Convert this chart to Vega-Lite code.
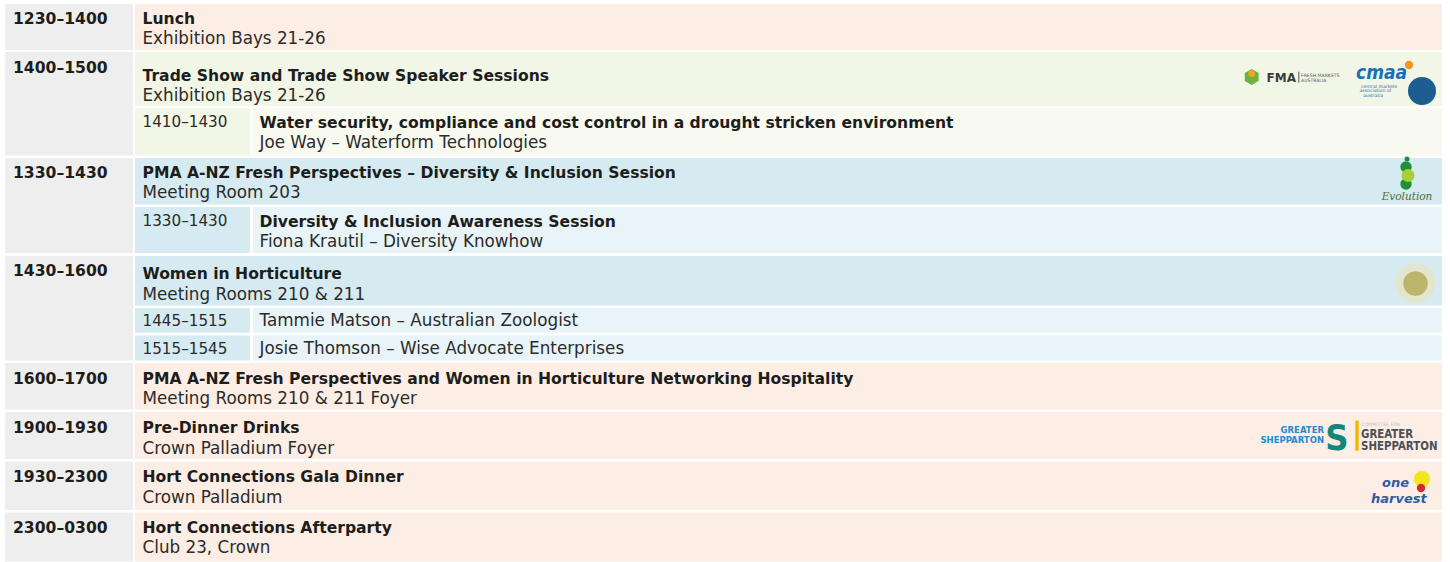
{
  "$schema": "https://vega.github.io/schema/vega-lite/v6.json",
  "width": 1450,
  "height": 562,
  "padding": 0,
  "autosize": {"type": "fit", "contains": "padding"},
  "background": "white",
  "config": {"view": {"stroke": null}},
  "datasets": {
    "cells": [
      {"left": 5, "right": 133, "top": 4, "bottom": 50, "tone": "slot"},
      {"left": 135, "right": 1442, "top": 4, "bottom": 50, "tone": "peach"},
      {"left": 5, "right": 133, "top": 52, "bottom": 155.5, "tone": "slot"},
      {"left": 135, "right": 1442, "top": 52, "bottom": 106, "tone": "green"},
      {"left": 135, "right": 250, "top": 108.5, "bottom": 155.5, "tone": "green"},
      {"left": 253, "right": 1442, "top": 108.5, "bottom": 155.5, "tone": "green2"},
      {"left": 5, "right": 133, "top": 158, "bottom": 253, "tone": "slot"},
      {"left": 135, "right": 1442, "top": 158, "bottom": 204.5, "tone": "blue"},
      {"left": 135, "right": 250, "top": 207, "bottom": 253, "tone": "blue"},
      {"left": 253, "right": 1442, "top": 207, "bottom": 253, "tone": "blue2"},
      {"left": 5, "right": 133, "top": 256, "bottom": 360.5, "tone": "slot"},
      {"left": 135, "right": 1442, "top": 256, "bottom": 305.5, "tone": "blue"},
      {"left": 135, "right": 250, "top": 308, "bottom": 332.7, "tone": "blue"},
      {"left": 253, "right": 1442, "top": 308, "bottom": 332.7, "tone": "blue2"},
      {"left": 135, "right": 250, "top": 335.5, "bottom": 360.5, "tone": "blue"},
      {"left": 253, "right": 1442, "top": 335.5, "bottom": 360.5, "tone": "blue2"},
      {"left": 5, "right": 133, "top": 363, "bottom": 409.5, "tone": "slot"},
      {"left": 135, "right": 1442, "top": 363, "bottom": 409.5, "tone": "peach"},
      {"left": 5, "right": 133, "top": 412, "bottom": 459, "tone": "slot"},
      {"left": 135, "right": 1442, "top": 412, "bottom": 459, "tone": "peach"},
      {"left": 5, "right": 133, "top": 461.5, "bottom": 510, "tone": "slot"},
      {"left": 135, "right": 1442, "top": 461.5, "bottom": 510, "tone": "peach"},
      {"left": 5, "right": 133, "top": 512.5, "bottom": 561.5, "tone": "slot"},
      {"left": 135, "right": 1442, "top": 512.5, "bottom": 561.5, "tone": "peach"},
      {"left": 1355.3, "right": 1358.7, "top": 420.7, "bottom": 450.7, "tone": "gold"},
      {"left": 1298.3, "right": 1299.3, "top": 71.7, "bottom": 82.7, "tone": "fmagray"}
    ],
    "texts": [
      {"kind": "slot", "x": 13, "y": 24, "label": "1230–1400"},
      {"kind": "slot", "x": 13, "y": 73.3, "label": "1400–1500"},
      {"kind": "slot", "x": 13, "y": 177.7, "label": "1330–1430"},
      {"kind": "slot", "x": 13, "y": 276, "label": "1430–1600"},
      {"kind": "slot", "x": 13, "y": 383.7, "label": "1600–1700"},
      {"kind": "slot", "x": 13, "y": 433, "label": "1900–1930"},
      {"kind": "slot", "x": 13, "y": 482.3, "label": "1930–2300"},
      {"kind": "slot", "x": 13, "y": 533.3, "label": "2300–0300"},
      {"kind": "title", "x": 142.5, "y": 24, "label": "Lunch"},
      {"kind": "title", "x": 142.5, "y": 80.7, "label": "Trade Show and Trade Show Speaker Sessions"},
      {"kind": "title", "x": 259.5, "y": 128.3, "label": "Water security, compliance and cost control in a drought stricken environment"},
      {"kind": "title", "x": 142.5, "y": 177.7, "label": "PMA A-NZ Fresh Perspectives – Diversity & Inclusion Session"},
      {"kind": "title", "x": 259.5, "y": 226.7, "label": "Diversity & Inclusion Awareness Session"},
      {"kind": "title", "x": 142.5, "y": 279.3, "label": "Women in Horticulture"},
      {"kind": "title", "x": 142.5, "y": 383.7, "label": "PMA A-NZ Fresh Perspectives and Women in Horticulture Networking Hospitality"},
      {"kind": "title", "x": 142.5, "y": 433, "label": "Pre-Dinner Drinks"},
      {"kind": "title", "x": 142.5, "y": 482.3, "label": "Hort Connections Gala Dinner"},
      {"kind": "title", "x": 142.5, "y": 533.3, "label": "Hort Connections Afterparty"},
      {"kind": "venue", "x": 142.5, "y": 44.3, "label": "Exhibition Bays 21-26"},
      {"kind": "venue", "x": 142.5, "y": 100.7, "label": "Exhibition Bays 21-26"},
      {"kind": "venue", "x": 142.5, "y": 198.3, "label": "Meeting Room 203"},
      {"kind": "venue", "x": 142.5, "y": 299.5, "label": "Meeting Rooms 210 & 211"},
      {"kind": "venue", "x": 142.5, "y": 404.3, "label": "Meeting Rooms 210 & 211 Foyer"},
      {"kind": "venue", "x": 142.5, "y": 453.7, "label": "Crown Palladium Foyer"},
      {"kind": "venue", "x": 142.5, "y": 502.5, "label": "Crown Palladium"},
      {"kind": "venue", "x": 142.5, "y": 552.5, "label": "Club 23, Crown"},
      {"kind": "subslot", "x": 142.5, "y": 127.3, "label": "1410–1430"},
      {"kind": "subslot", "x": 142.5, "y": 226, "label": "1330–1430"},
      {"kind": "subslot", "x": 142.5, "y": 326, "label": "1445–1515"},
      {"kind": "subslot", "x": 142.5, "y": 354.3, "label": "1515–1545"},
      {"kind": "speaker", "x": 259.5, "y": 148.3, "label": "Joe Way – Waterform Technologies"},
      {"kind": "speaker", "x": 259.5, "y": 246.7, "label": "Fiona Krautil – Diversity Knowhow"},
      {"kind": "speaker", "x": 259.5, "y": 326, "label": "Tammie Matson – Australian Zoologist"},
      {"kind": "speaker", "x": 259.5, "y": 354.3, "label": "Josie Thomson – Wise Advocate Enterprises"}
    ],
    "logo": [
      {"part": "fmaHex", "x": 1251.7, "y": 77, "tone": "fmagreen"},
      {"part": "fmaDot", "x": 1251.7, "y": 73.5, "tone": "fmaorange"},
      {"part": "seal", "x": 1422, "y": 91, "tone": "seal"},
      {"part": "sun", "x": 1409, "y": 65, "tone": "sun"},
      {"part": "evoS", "x": 1407, "y": 159, "tone": "evodark"},
      {"part": "evoM", "x": 1406, "y": 167, "tone": "evodark"},
      {"part": "evoL", "x": 1408, "y": 175.5, "tone": "evolime"},
      {"part": "evoM", "x": 1406, "y": 184, "tone": "evodark"},
      {"part": "emblemOut", "x": 1415.5, "y": 283, "tone": "emblem"},
      {"part": "emblemIn", "x": 1415.5, "y": 283.5, "tone": "emblemin"},
      {"part": "ohSun", "x": 1422, "y": 479, "tone": "ohsun"},
      {"part": "ohRed", "x": 1421, "y": 488, "tone": "ohred"}
    ],
    "logoText": [
      {"part": "fma", "x": 1266.5, "y": 81.7, "label": "FMA", "tone": "ink"},
      {"part": "tiny", "x": 1301, "y": 76.5, "label": "FRESH MARKETS", "tone": "fmagray"},
      {"part": "tiny", "x": 1301, "y": 82, "label": "AUSTRALIA", "tone": "fmagray"},
      {"part": "tiny", "x": 1361, "y": 87.5, "label": "central markets", "tone": "cmaa"},
      {"part": "tiny", "x": 1359.5, "y": 92, "label": "association of", "tone": "cmaa"},
      {"part": "tiny", "x": 1363, "y": 96.5, "label": "australia", "tone": "cmaa"},
      {"part": "tiny", "x": 1361.5, "y": 425.5, "label": "COMMITTEE FOR", "tone": "faint"},
      {"part": "cmaa", "x": 1356, "y": 79.3, "label": "cmaa", "tone": "cmaa"},
      {"part": "gsb", "x": 1324, "y": 432.7, "label": "GREATER", "tone": "gsblue"},
      {"part": "gsb", "x": 1324, "y": 443.3, "label": "SHEPPARTON", "tone": "gsblue"},
      {"part": "gsS", "x": 1337, "y": 449.5, "label": "S", "tone": "gsteal"},
      {"part": "gsg", "x": 1361, "y": 437.5, "label": "GREATER", "tone": "gsgray"},
      {"part": "gsg", "x": 1361, "y": 450, "label": "SHEPPARTON", "tone": "gsgray"},
      {"part": "evo", "x": 1407, "y": 200, "label": "Evolution", "tone": "evotext"},
      {"part": "oh", "x": 1382, "y": 487, "label": "one", "tone": "ohblue"},
      {"part": "oh", "x": 1371, "y": 502.5, "label": "harvest", "tone": "ohblue"}
    ]
  },
  "layer": [
    {
      "data": {"name": "cells"},
      "mark": {"type": "rect"},
      "encoding": {
        "x": {"field": "left", "type": "quantitative", "axis": null, "scale": {"domain": [0, 1450], "nice": false, "zero": false}},
        "x2": {"field": "right"},
        "y": {"field": "top", "type": "quantitative", "axis": null, "scale": {"domain": [0, 562], "nice": false, "zero": false, "reverse": true}},
        "y2": {"field": "bottom"},
        "color": {"field": "tone", "type": "nominal", "legend": null,
          "scale": {
            "domain": ["slot","peach","green","green2","blue","blue2","gold","fmagray","fmagreen","fmaorange","ink","cmaa","seal","sun","evodark","evolime","evotext","emblem","emblemin","gsblue","gsteal","gsgray","faint","ohblue","ohsun","ohred"],
            "range": ["#eeeeee","#fdeee5","#f2f6e6","#f8faf0","#d5ebf1","#e8f4f7","#f5b400","#555555","#6db33f","#f6a21c","#3c3c3c","#1b6fb5","#1d5d8f","#f7941d","#1f8f3a","#a8cf38","#4d6b2f","#e2e6cf","#bcb56c","#1f8ad0","#13877a","#4b5055","#bbbbbb","#2d5ba5","#f3e41c","#d42a2f"]
          }
        }
      }
    },
    {
      "data": {"name": "texts"},
      "transform": [{"filter": "datum.kind === 'slot' || datum.kind === 'title'"}],
      "mark": {"type": "text", "align": "left", "baseline": "alphabetic", "font": "DejaVu Sans", "fontWeight": "bold", "fontSize": 15.6, "color": "#1d1d1b"},
      "encoding": {
        "x": {"field": "x", "type": "quantitative"},
        "y": {"field": "y", "type": "quantitative"},
        "text": {"field": "label"}
      }
    },
    {
      "data": {"name": "texts"},
      "transform": [{"filter": "datum.kind === 'venue' || datum.kind === 'speaker'"}],
      "mark": {"type": "text", "align": "left", "baseline": "alphabetic", "font": "DejaVu Sans", "fontWeight": "normal", "fontSize": 16.8, "color": "#2b2b2b"},
      "encoding": {
        "x": {"field": "x", "type": "quantitative"},
        "y": {"field": "y", "type": "quantitative"},
        "text": {"field": "label"}
      }
    },
    {
      "data": {"name": "texts"},
      "transform": [{"filter": "datum.kind === 'subslot'"}],
      "mark": {"type": "text", "align": "left", "baseline": "alphabetic", "font": "DejaVu Sans", "fontWeight": "normal", "fontSize": 15.2, "color": "#2b2b2b"},
      "encoding": {
        "x": {"field": "x", "type": "quantitative"},
        "y": {"field": "y", "type": "quantitative"},
        "text": {"field": "label"}
      }
    },
    {
      "data": {"name": "logo"},
      "transform": [{"filter": "datum.part === 'fmaHex'"}],
      "mark": {"type": "point", "filled": true, "opacity": 1, "size": 256, "shape": "M0,-1L0.866,-0.5L0.866,0.5L0,1L-0.866,0.5L-0.866,-0.5Z"},
      "encoding": {"x": {"field": "x", "type": "quantitative"}, "y": {"field": "y", "type": "quantitative"}, "color": {"field": "tone", "type": "nominal", "legend": null}}
    },
    {
      "data": {"name": "logo"},
      "transform": [{"filter": "datum.part === 'fmaDot'"}],
      "mark": {"type": "point", "filled": true, "opacity": 1, "size": 45},
      "encoding": {"x": {"field": "x", "type": "quantitative"}, "y": {"field": "y", "type": "quantitative"}, "color": {"field": "tone", "type": "nominal", "legend": null}}
    },
    {
      "data": {"name": "logo"},
      "transform": [{"filter": "datum.part === 'seal'"}],
      "mark": {"type": "point", "filled": true, "opacity": 1, "size": 784},
      "encoding": {"x": {"field": "x", "type": "quantitative"}, "y": {"field": "y", "type": "quantitative"}, "color": {"field": "tone", "type": "nominal", "legend": null}}
    },
    {
      "data": {"name": "logo"},
      "transform": [{"filter": "datum.part === 'sun'"}],
      "mark": {"type": "point", "filled": true, "opacity": 1, "size": 70},
      "encoding": {"x": {"field": "x", "type": "quantitative"}, "y": {"field": "y", "type": "quantitative"}, "color": {"field": "tone", "type": "nominal", "legend": null}}
    },
    {
      "data": {"name": "logo"},
      "transform": [{"filter": "datum.part === 'evoS'"}],
      "mark": {"type": "point", "filled": true, "opacity": 1, "size": 25},
      "encoding": {"x": {"field": "x", "type": "quantitative"}, "y": {"field": "y", "type": "quantitative"}, "color": {"field": "tone", "type": "nominal", "legend": null}}
    },
    {
      "data": {"name": "logo"},
      "transform": [{"filter": "datum.part === 'evoM'"}],
      "mark": {"type": "point", "filled": true, "opacity": 1, "size": 130},
      "encoding": {"x": {"field": "x", "type": "quantitative"}, "y": {"field": "y", "type": "quantitative"}, "color": {"field": "tone", "type": "nominal", "legend": null}}
    },
    {
      "data": {"name": "logo"},
      "transform": [{"filter": "datum.part === 'evoL'"}],
      "mark": {"type": "point", "filled": true, "opacity": 1, "size": 170},
      "encoding": {"x": {"field": "x", "type": "quantitative"}, "y": {"field": "y", "type": "quantitative"}, "color": {"field": "tone", "type": "nominal", "legend": null}}
    },
    {
      "data": {"name": "logo"},
      "transform": [{"filter": "datum.part === 'emblemOut'"}],
      "mark": {"type": "point", "filled": true, "opacity": 1, "size": 1600},
      "encoding": {"x": {"field": "x", "type": "quantitative"}, "y": {"field": "y", "type": "quantitative"}, "color": {"field": "tone", "type": "nominal", "legend": null}}
    },
    {
      "data": {"name": "logo"},
      "transform": [{"filter": "datum.part === 'emblemIn'"}],
      "mark": {"type": "point", "filled": true, "opacity": 1, "size": 600},
      "encoding": {"x": {"field": "x", "type": "quantitative"}, "y": {"field": "y", "type": "quantitative"}, "color": {"field": "tone", "type": "nominal", "legend": null}}
    },
    {
      "data": {"name": "logo"},
      "transform": [{"filter": "datum.part === 'ohSun'"}],
      "mark": {"type": "point", "filled": true, "opacity": 1, "size": 260},
      "encoding": {"x": {"field": "x", "type": "quantitative"}, "y": {"field": "y", "type": "quantitative"}, "color": {"field": "tone", "type": "nominal", "legend": null}}
    },
    {
      "data": {"name": "logo"},
      "transform": [{"filter": "datum.part === 'ohRed'"}],
      "mark": {"type": "point", "filled": true, "opacity": 1, "size": 70},
      "encoding": {"x": {"field": "x", "type": "quantitative"}, "y": {"field": "y", "type": "quantitative"}, "color": {"field": "tone", "type": "nominal", "legend": null}}
    },
    {
      "data": {"name": "logoText"},
      "transform": [{"filter": "datum.part === 'fma'"}],
      "mark": {"type": "text", "align": "left", "baseline": "alphabetic", "font": "DejaVu Sans", "fontWeight": "bold", "fontSize": 12},
      "encoding": {"x": {"field": "x", "type": "quantitative"}, "y": {"field": "y", "type": "quantitative"}, "text": {"field": "label"}, "color": {"field": "tone", "type": "nominal", "legend": null}}
    },
    {
      "data": {"name": "logoText"},
      "transform": [{"filter": "datum.part === 'tiny'"}],
      "mark": {"type": "text", "align": "left", "baseline": "alphabetic", "font": "DejaVu Sans", "fontSize": 4.6},
      "encoding": {"x": {"field": "x", "type": "quantitative"}, "y": {"field": "y", "type": "quantitative"}, "text": {"field": "label"}, "color": {"field": "tone", "type": "nominal", "legend": null}}
    },
    {
      "data": {"name": "logoText"},
      "transform": [{"filter": "datum.part === 'cmaa'"}],
      "mark": {"type": "text", "align": "left", "baseline": "alphabetic", "font": "DejaVu Sans Condensed, DejaVu Sans", "fontWeight": "bold", "fontStyle": "italic", "fontSize": 19},
      "encoding": {"x": {"field": "x", "type": "quantitative"}, "y": {"field": "y", "type": "quantitative"}, "text": {"field": "label"}, "color": {"field": "tone", "type": "nominal", "legend": null}}
    },
    {
      "data": {"name": "logoText"},
      "transform": [{"filter": "datum.part === 'gsb'"}],
      "mark": {"type": "text", "align": "right", "baseline": "alphabetic", "font": "DejaVu Sans", "fontWeight": "bold", "fontSize": 8.5},
      "encoding": {"x": {"field": "x", "type": "quantitative"}, "y": {"field": "y", "type": "quantitative"}, "text": {"field": "label"}, "color": {"field": "tone", "type": "nominal", "legend": null}}
    },
    {
      "data": {"name": "logoText"},
      "transform": [{"filter": "datum.part === 'gsS'"}],
      "mark": {"type": "text", "align": "center", "baseline": "alphabetic", "font": "DejaVu Sans Condensed, DejaVu Sans", "fontWeight": "bold", "fontSize": 36},
      "encoding": {"x": {"field": "x", "type": "quantitative"}, "y": {"field": "y", "type": "quantitative"}, "text": {"field": "label"}, "color": {"field": "tone", "type": "nominal", "legend": null}}
    },
    {
      "data": {"name": "logoText"},
      "transform": [{"filter": "datum.part === 'gsg'"}],
      "mark": {"type": "text", "align": "left", "baseline": "alphabetic", "font": "Liberation Sans Narrow, DejaVu Sans Condensed, DejaVu Sans", "fontWeight": "bold", "fontSize": 11.4},
      "encoding": {"x": {"field": "x", "type": "quantitative"}, "y": {"field": "y", "type": "quantitative"}, "text": {"field": "label"}, "color": {"field": "tone", "type": "nominal", "legend": null}}
    },
    {
      "data": {"name": "logoText"},
      "transform": [{"filter": "datum.part === 'evo'"}],
      "mark": {"type": "text", "align": "center", "baseline": "alphabetic", "font": "DejaVu Serif", "fontStyle": "italic", "fontSize": 10.5},
      "encoding": {"x": {"field": "x", "type": "quantitative"}, "y": {"field": "y", "type": "quantitative"}, "text": {"field": "label"}, "color": {"field": "tone", "type": "nominal", "legend": null}}
    },
    {
      "data": {"name": "logoText"},
      "transform": [{"filter": "datum.part === 'oh'"}],
      "mark": {"type": "text", "align": "left", "baseline": "alphabetic", "font": "DejaVu Sans", "fontWeight": "bold", "fontStyle": "italic", "fontSize": 13},
      "encoding": {"x": {"field": "x", "type": "quantitative"}, "y": {"field": "y", "type": "quantitative"}, "text": {"field": "label"}, "color": {"field": "tone", "type": "nominal", "legend": null}}
    }
  ]
}
